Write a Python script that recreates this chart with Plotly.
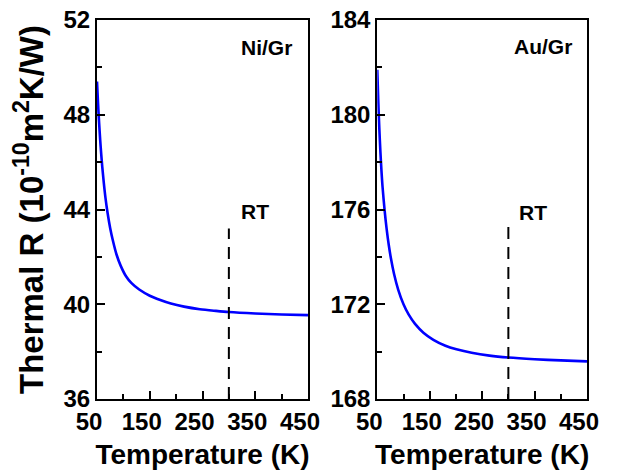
import plotly.graph_objects as go

# Ni/Gr data (Temperature K, Thermal R 1e-10 m^2K/W)
ni_T = [50, 52, 54, 56, 58, 60, 63, 66, 70, 75, 80, 87, 95, 105, 115, 130, 150, 170, 190, 215, 245, 275, 300, 350, 400, 450]
ni_R = [49.40, 48.47, 47.66, 46.95, 46.34, 45.80, 45.10, 44.50, 43.86, 43.21, 42.70, 42.10, 41.62, 41.18, 40.90,
        40.62, 40.36, 40.18, 40.03, 39.90, 39.79, 39.72, 39.67, 39.61, 39.57, 39.54]

# Au/Gr data
au_T = [50, 52, 54, 56, 58, 60, 64, 68, 72, 76, 82, 90, 100, 110, 122, 138, 157, 180, 201, 230, 264, 300, 350, 400, 450]
au_R = [181.90, 180.50, 179.36, 178.41, 177.63, 176.97, 175.96, 175.15, 174.49, 173.94, 173.28, 172.61, 172.00,
        171.56, 171.17, 170.80, 170.50, 170.25, 170.10, 169.95, 169.83, 169.75, 169.68, 169.63, 169.59]

# Room temperature marker lines
rt_T = 300
ni_rt_y = [36, 43.2]
au_rt_y = [168, 175.3]

x_ticks = [50, 150, 250, 350, 450]
ni_yticks = [36, 40, 44, 48, 52]
au_yticks = [168, 172, 176, 180, 184]

FONT = "Arial, Liberation Sans, sans-serif"
BLUE = "#0000ff"

fig = go.Figure()
fig.add_trace(go.Scatter(x=ni_T, y=ni_R, mode="lines", line=dict(color=BLUE, width=2.6, shape="spline", smoothing=0.8),
                         xaxis="x", yaxis="y", showlegend=False))
fig.add_trace(go.Scatter(x=[rt_T, rt_T], y=ni_rt_y, mode="lines", line=dict(color="black", width=2, dash="12px,8px"),
                         xaxis="x", yaxis="y", showlegend=False))
fig.add_trace(go.Scatter(x=au_T, y=au_R, mode="lines", line=dict(color=BLUE, width=2.6, shape="spline", smoothing=0.8),
                         xaxis="x2", yaxis="y2", showlegend=False))
fig.add_trace(go.Scatter(x=[rt_T, rt_T], y=au_rt_y, mode="lines", line=dict(color="black", width=2, dash="12px,8px"),
                         xaxis="x2", yaxis="y2", showlegend=False))

tickfont = dict(family=FONT, size=24, color="black", weight="bold")
titlefont = dict(family=FONT, size=28, color="black", weight="bold")

def xax(domain, anchor):
    return dict(domain=domain, anchor=anchor, range=[50, 450], tickmode="array", tickvals=x_ticks,
                ticktext=[str(v) for v in x_ticks], automargin=False, ticklabeloverflow="allow",
                ticks="inside", ticklen=8, tickwidth=2, tickcolor="black",
                minor=dict(tickmode="linear", tick0=50, dtick=50, ticks="inside", ticklen=5, tickwidth=2, tickcolor="black"),
                showline=True, linewidth=2, linecolor="black", mirror=True, showgrid=False, zeroline=False,
                tickfont=tickfont, ticklabelshift=-8,
                title=dict(text="Temperature (K)", font=titlefont, standoff=11))

def yax(domain, anchor, rng, vals, title=None):
    d = dict(domain=domain, anchor=anchor, range=rng, tickmode="array", tickvals=vals,
             ticktext=[str(v) for v in vals], automargin=False, ticklabeloverflow="allow",
             ticks="inside", ticklen=8, tickwidth=2, tickcolor="black",
             minor=dict(tickmode="linear", tick0=rng[0], dtick=2, ticks="inside", ticklen=5, tickwidth=2, tickcolor="black"),
             showline=True, linewidth=2, linecolor="black", mirror=True, showgrid=False, zeroline=False,
             tickfont=tickfont)
    if title:
        d["title"] = dict(text=title, font=dict(family=FONT, size=33, color="black", weight="bold"), standoff=12)
    return d

fig.update_layout(
    width=613, height=466,
    margin=dict(l=89, r=34, t=12, b=75),
    paper_bgcolor="white", plot_bgcolor="white",
    xaxis=xax([0, 0.4306], "y"),
    yaxis=yax([0, 1], "x", [36, 52], ni_yticks, "Thermal R (10<sup>-10</sup>m<sup>2</sup>K/W)"),
    xaxis2=xax([0.572, 1], "y2"),
    yaxis2=yax([0, 1], "x2", [168, 184], au_yticks),
    annotations=[
        dict(x=372, y=50.86, xref="x", yref="y", text="Ni/Gr", showarrow=False,
             font=dict(family=FONT, size=21, color="black", weight="bold")),
        dict(x=349, y=43.91, xref="x", yref="y", text="RT", showarrow=False,
             font=dict(family=FONT, size=21, color="black", weight="bold")),
        dict(x=366.6, y=182.9, xref="x2", yref="y2", text="Au/Gr", showarrow=False,
             font=dict(family=FONT, size=21, color="black", weight="bold")),
        dict(x=347.5, y=175.87, xref="x2", yref="y2", text="RT", showarrow=False,
             font=dict(family=FONT, size=21, color="black", weight="bold")),
    ],
)

fig.write_html("out.html")
